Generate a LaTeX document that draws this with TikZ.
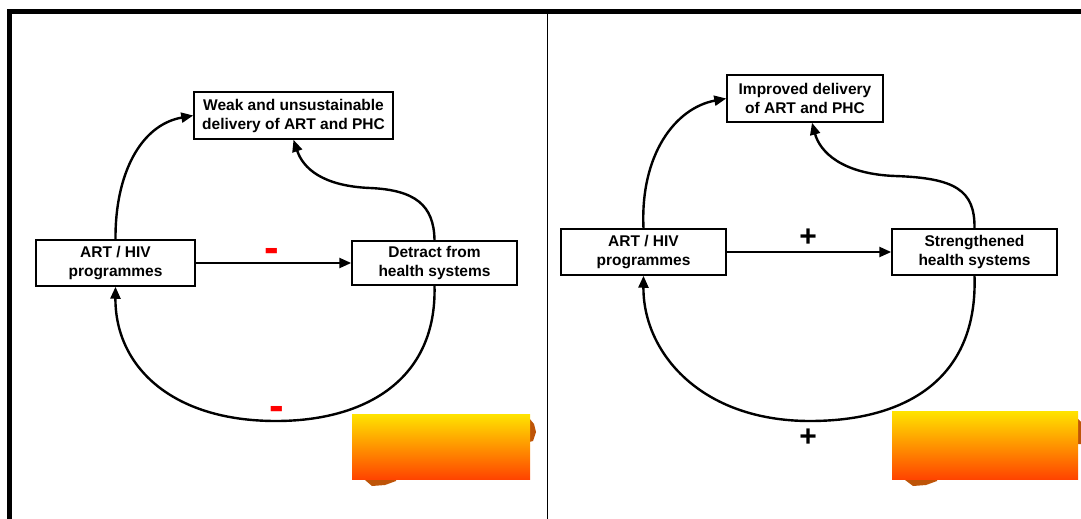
\documentclass[tikz,border=0pt]{standalone}
\usepackage{fontspec}
\setmainfont{Liberation Sans}
\usetikzlibrary{arrows.meta}
\definecolor{gy}{RGB}{255,228,0}
\definecolor{go}{RGB}{255,68,0}
\definecolor{blob}{RGB}{190,84,8}
\begin{document}
\begin{tikzpicture}[x=1pt,y=-1pt,
  box/.style={draw=black, line width=1.5pt, fill=white, inner sep=0pt, align=center,
    font=\fontsize{15.5}{19}\selectfont\bfseries},
  link/.style={line width=2.4pt, -{Triangle[length=12pt,width=10pt]}},
  minus/.style={text=red, font=\fontsize{44}{44}\selectfont\bfseries, inner sep=0pt, anchor=base},
  plus/.style={text=black, font=\fontsize{30}{30}\selectfont\bfseries, inner sep=0pt, anchor=base},
  frame/.style={line width=4.6pt, black}]
\useasboundingbox (0,0) rectangle (1081,519);
% frame
\draw[frame] (7,11.7) -- (1081,11.7);
\draw[frame] (9.3,9.5) -- (9.3,519);
\draw[line width=1pt] (547,14) -- (547,519);

% ---------- left panel ----------
\node[box, minimum width=199, minimum height=47] (weak) at (293.5,115.5)
  {Weak and unsustainable\\delivery of ART and PHC};
\node[box, minimum width=159, minimum height=46] (art1) at (115.5,263)
  {ART / HIV\\programmes};
\node[box, minimum width=165, minimum height=44] (det) at (434.5,263)
  {Detract from\\health systems};

\draw[link] (art1.east) -- (det.west);
\draw[link] (art1.north) .. controls (115,175) and (140,125) .. (weak.west);
\draw[link] (det.north) .. controls (434,205) and (415,190) .. (370,188)
  .. controls (322,186) and (303,168) .. (weak.south);
\draw[link] (det.south) .. controls (437,380) and (365,421) .. (276,421)
  .. controls (170,421) and (115,365) .. (art1.south);

\node[minus] (m1) at (271.5,262) {-};
\node[minus] (m2) at (276.5,420) {-};

% gradient box left
\fill[blob] (365,480) -- (372,486) -- (385,485) -- (396,481) -- (396,478) -- (362,478) -- cycle;
\fill[blob] (529,418) -- (534,424) -- (536,432) -- (533,441) -- (529,442) -- cycle;
\shade[top color=gy, bottom color=go] (352,414) rectangle (530,479);

% ---------- right panel ----------
\node[box, minimum width=156, minimum height=47] (imp) at (805,98.5)
  {Improved delivery\\of ART and PHC};
\node[box, minimum width=165, minimum height=46] (art2) at (643.5,252)
  {ART / HIV\\programmes};
\node[box, minimum width=165, minimum height=46] (str) at (974.5,252)
  {Strengthened\\health systems};

\draw[link] (art2.east) -- (str.west);
\draw[link] (art2.north) .. controls (640,155) and (675,108) .. (imp.west);
\draw[link] (str.north) .. controls (975,190) and (955,178) .. (895,176)
  .. controls (842,174) and (820,152) .. ([xshift=7pt]imp.south);
\draw[link] (str.south) .. controls (978,382) and (902,421) .. (810,421)
  .. controls (700,421) and (643,352) .. (art2.south);

\node[plus] (p1) at (808,246) {+};
\node[plus] (p2) at (808,446) {+};

% gradient box right
\fill[blob] (905,480) -- (913,486) -- (926,485) -- (937,481) -- (937,478) -- (902,478) -- cycle;
\fill[blob] (1077,418) -- (1081,422) -- (1081,444) -- (1077,444) -- cycle;
\shade[top color=gy, bottom color=go] (892,411) rectangle (1078,479);
\end{tikzpicture}
\end{document}
